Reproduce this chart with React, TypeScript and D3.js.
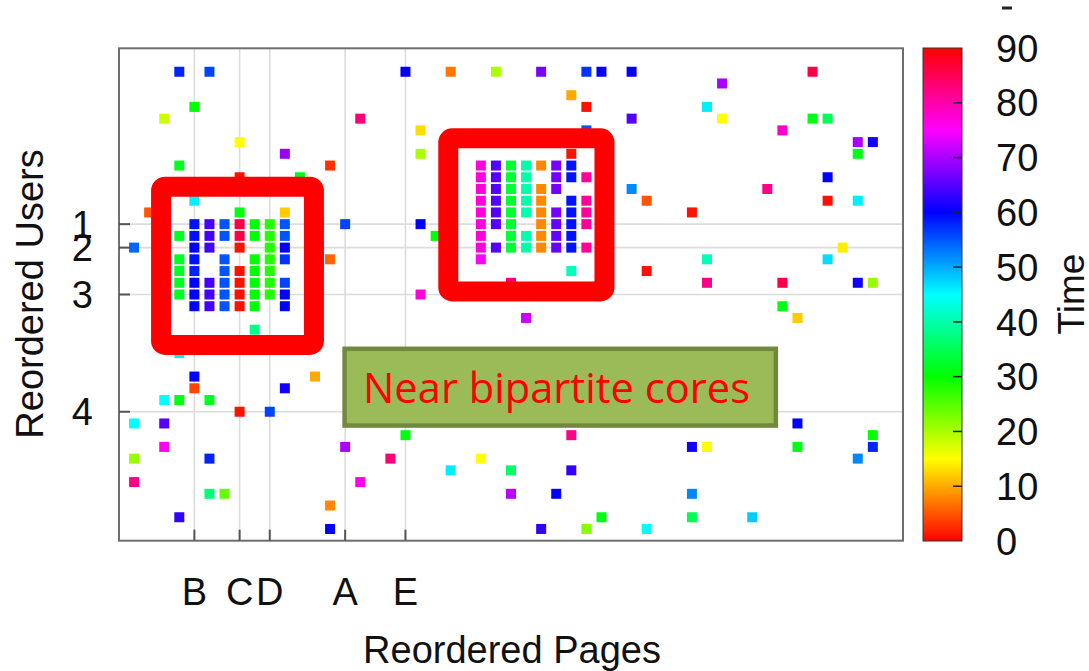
import * as d3 from 'd3';

// [page, user, time] — user rows counted from the top of the plot
const coreA: [number, number, number][] = [
  [5, 15, 59], [6, 15, 64], [7, 15, 55], [8, 15, 86], [9, 15, 30], [10, 15, 28], [11, 15, 55],
  [4, 16, 32], [5, 16, 59], [6, 16, 64], [7, 16, 55], [8, 16, 86], [9, 16, 30], [10, 16, 28], [11, 16, 55],
  [5, 17, 60], [6, 17, 64], [8, 17, 1], [10, 17, 28], [11, 17, 60],
  [4, 18, 32], [5, 18, 59], [7, 18, 55], [9, 18, 30], [10, 18, 28], [11, 18, 57],
  [4, 19, 32], [5, 19, 58], [7, 19, 55], [8, 19, 1], [9, 19, 30], [10, 19, 28],
  [4, 20, 32], [5, 20, 60], [6, 20, 64], [7, 20, 55], [8, 20, 1], [9, 20, 30], [10, 20, 28], [11, 20, 56],
  [4, 21, 32], [5, 21, 60], [6, 21, 64], [7, 21, 55], [8, 21, 1], [9, 21, 30], [10, 21, 28], [11, 21, 60],
  [5, 22, 60], [6, 22, 64], [7, 22, 55], [8, 22, 1], [9, 22, 30], [11, 22, 60],
];

const coreB: [number, number, number][] = [
  [24, 10, 77], [25, 10, 65], [26, 10, 33], [27, 10, 40], [28, 10, 8], [29, 10, 67], [30, 10, 59],
  [24, 11, 77], [25, 11, 65], [26, 11, 33], [27, 11, 40], [29, 11, 67], [30, 11, 59], [31, 11, 81],
  [24, 12, 77], [25, 12, 65], [26, 12, 33], [27, 12, 40], [28, 12, 8], [29, 12, 67],
  [24, 13, 77], [25, 13, 65], [26, 13, 33], [27, 13, 40], [28, 13, 8], [30, 13, 59], [31, 13, 81],
  [24, 14, 77], [25, 14, 65], [26, 14, 33], [27, 14, 40], [28, 14, 8], [29, 14, 67], [30, 14, 59], [31, 14, 81],
  [24, 15, 77], [25, 15, 65], [26, 15, 33], [28, 15, 8], [29, 15, 66], [30, 15, 59], [31, 15, 81],
  [24, 16, 77], [26, 16, 33], [27, 16, 40], [28, 16, 8], [29, 16, 66], [30, 16, 59],
  [24, 17, 77], [25, 17, 65], [26, 17, 33], [27, 17, 40], [28, 17, 8], [29, 17, 66], [30, 17, 59], [31, 17, 81],
  [24, 18, 75],
];

const scattered: [number, number, number][] = [
  [4, 2, 58], [6, 2, 56], [19, 2, 60], [22, 2, 7], [25, 2, 20], [28, 2, 67], [31, 2, 57], [32, 2, 60], [34, 2, 60], [46, 2, 86],
  [40, 3, 70], [30, 4, 10],
  [5, 5, 30], [31, 5, 1], [39, 5, 46],
  [3, 6, 18], [16, 6, 83], [34, 6, 65], [40, 6, 15], [46, 6, 31], [47, 6, 35],
  [20, 7, 13], [31, 7, 55], [44, 7, 78],
  [8, 8, 15], [49, 8, 70], [50, 8, 61],
  [11, 9, 69], [20, 9, 20], [30, 9, 1], [49, 9, 31],
  [4, 10, 32], [14, 10, 3],
  [8, 11, 1], [12, 11, 31], [47, 11, 60],
  [34, 12, 52], [43, 12, 82],
  [5, 13, 46], [35, 13, 5], [47, 13, 1], [49, 13, 46],
  [2, 14, 5], [8, 14, 31], [11, 14, 12], [38, 14, 1],
  [15, 15, 56], [20, 15, 60], [21, 16, 30],
  [1, 17, 54], [48, 17, 14],
  [14, 18, 6], [39, 18, 41], [47, 18, 47],
  [30, 19, 41], [35, 19, 1],
  [26, 20, 83], [39, 20, 82], [44, 20, 86], [49, 20, 61], [50, 20, 21],
  [20, 21, 77], [44, 22, 31], [27, 23, 72], [45, 23, 12], [9, 24, 38], [4, 26, 46],
  [5, 28, 60], [13, 28, 10], [5, 29, 4], [11, 29, 61],
  [3, 30, 45], [4, 30, 31], [6, 30, 32], [8, 31, 1], [10, 31, 56],
  [1, 32, 45], [3, 32, 65], [45, 32, 60],
  [19, 33, 31], [30, 33, 82], [50, 33, 30],
  [3, 34, 76], [15, 34, 70], [38, 34, 61], [39, 34, 15], [45, 34, 31], [50, 34, 58],
  [1, 35, 21], [6, 35, 58], [18, 35, 83], [24, 35, 15], [49, 35, 52],
  [22, 36, 46], [26, 36, 36], [30, 36, 63],
  [1, 37, 82], [16, 37, 76],
  [6, 38, 37], [7, 38, 24], [26, 38, 71], [29, 38, 60], [38, 38, 52],
  [14, 39, 8],
  [4, 40, 63], [32, 40, 31], [38, 40, 35], [42, 40, 48],
  [14, 41, 60], [28, 41, 63], [31, 41, 22], [35, 41, 45],
];

const pageTicks = [5, 8, 10, 15, 19];
const pageLabels = ['B', 'C', 'D', 'A', 'E'];
const userTicks = [15, 17, 21, 31];
const userLabels = ['1', '2', '3', '4'];
const timeTicks = [0, 10, 20, 30, 40, 50, 60, 70, 80, 90];

// annotation boxes in data units: [page0, page1, user0, user1]
const coreBoxes = [
  [2.79, 12.93, 11.8, 25.3],
  [21.84, 32.2, 7.68, 20.74],
];
const noteBox = [14.83, 43.7, 25.46, 32.35];

const W = 1089, H = 671;
const FONT = '"Liberation Sans", Arial, Helvetica, sans-serif';

export default function App() {
  const x = d3.scaleLinear().domain([0, 52]).range([119, 903]);
  const y = d3.scaleLinear().domain([0, 42]).range([48.3, 540.7]);
  const color = d3.scaleSequential((t: number) => d3.hsl(t * 360, 1, 0.5).toString()).domain([0, 90]);
  const cb = d3.scaleLinear().domain([0, 90]).range([541, 48]);
  const cbX0 = 923, cbX1 = 962;
  const sz = 10;
  const pts = [...scattered, ...coreA, ...coreB];
  const stops = d3.range(0, 37).map(i => i / 36);

  return (
    <div style={{ position: 'absolute', left: 0, top: 0 }}>
      <svg width={W} height={H} style={{ display: 'block', background: '#fff' }} fontFamily={FONT}>
        <defs>
          <linearGradient id="cbar" x1="0" y1="1" x2="0" y2="0">
            {stops.map(s => (
              <stop key={s} offset={s} stopColor={color(s * 90)} />
            ))}
          </linearGradient>
        </defs>

        {/* grid */}
        {pageTicks.map(t => (
          <line key={'gx' + t} x1={x(t)} x2={x(t)} y1={y(0)} y2={y(42)} stroke="#dcdcdc" strokeWidth={1.6} />
        ))}
        {userTicks.map(t => (
          <line key={'gy' + t} x1={x(0)} x2={x(52)} y1={y(t)} y2={y(t)} stroke="#dcdcdc" strokeWidth={1.6} />
        ))}

        {/* points */}
        {pts.map((d, i) => (
          <rect key={i} x={x(d[0]) - sz / 2} y={y(d[1]) - sz / 2} width={sz} height={sz} fill={color(d[2])} />
        ))}

        {/* frame + ticks */}
        <rect x={x(0)} y={y(0)} width={x(52) - x(0)} height={y(42) - y(0)} fill="none" stroke="#6e6e6e" strokeWidth={2} />
        {userTicks.map(t => (
          <line key={'ty' + t} x1={x(0)} x2={x(0) + 11} y1={y(t)} y2={y(t)} stroke="#555" strokeWidth={2} />
        ))}
        {pageTicks.map(t => (
          <line key={'tx' + t} x1={x(t)} x2={x(t)} y1={y(42)} y2={y(42) - 11} stroke="#555" strokeWidth={2} />
        ))}

        {/* tick labels */}
        {userTicks.map((t, i) => (
          <text key={'ly' + t} x={93} y={y(t)} dy="0.36em" textAnchor="end" fontSize={38} fill="#111">{userLabels[i]}</text>
        ))}
        {pageTicks.map((t, i) => (
          <text key={'lx' + t} x={x(t)} y={605} textAnchor="middle" fontSize={38} fill="#111">{pageLabels[i]}</text>
        ))}
        <text x={512} y={663} textAnchor="middle" fontSize={38} fill="#111">Reordered Pages</text>
        <text transform={`translate(43,294) rotate(-90)`} textAnchor="middle" fontSize={38} fill="#111">Reordered Users</text>

        {/* colour bar */}
        <rect x={cbX0} y={cb(90)} width={cbX1 - cbX0} height={cb(0) - cb(90)} fill="url(#cbar)" stroke="#333" strokeWidth={1} />
        {timeTicks.slice(1, -1).map(t => (
          <line key={'ct' + t} x1={cbX1 - 9} x2={cbX1} y1={cb(t)} y2={cb(t)} stroke="#222" strokeWidth={1.5} />
        ))}
        {timeTicks.map(t => (
          <text key={'cl' + t} x={996} y={cb(t)} dy="0.36em" fontSize={38} fill="#111">{t}</text>
        ))}
        <text transform={`translate(1084,294) rotate(-90)`} textAnchor="middle" fontSize={37} fill="#111">Time</text>
        <line x1={1002} x2={1012} y1={8} y2={8} stroke="#222" strokeWidth={3} />

        {/* annotations */}
        {coreBoxes.map((b, i) => (
          <rect key={'cb' + i} x={x(b[0])} y={y(b[2])} width={x(b[1]) - x(b[0])} height={y(b[3]) - y(b[2])}
            rx={4} fill="none" stroke="#ff0000" strokeWidth={20} />
        ))}
        <rect x={x(noteBox[0]) + 2} y={y(noteBox[2]) + 2} width={x(noteBox[1]) - x(noteBox[0]) - 4}
          height={y(noteBox[3]) - y(noteBox[2]) - 4} fill="#9bbb59" stroke="#71893f" strokeWidth={4.5} />
        <text x={363} y={403} fontSize={42} fill="#ff0000" fontFamily='"Open Sans", "Noto Sans", sans-serif'
          textLength={387} lengthAdjust="spacingAndGlyphs">Near bipartite cores</text>
      </svg>
    </div>
  );
}
